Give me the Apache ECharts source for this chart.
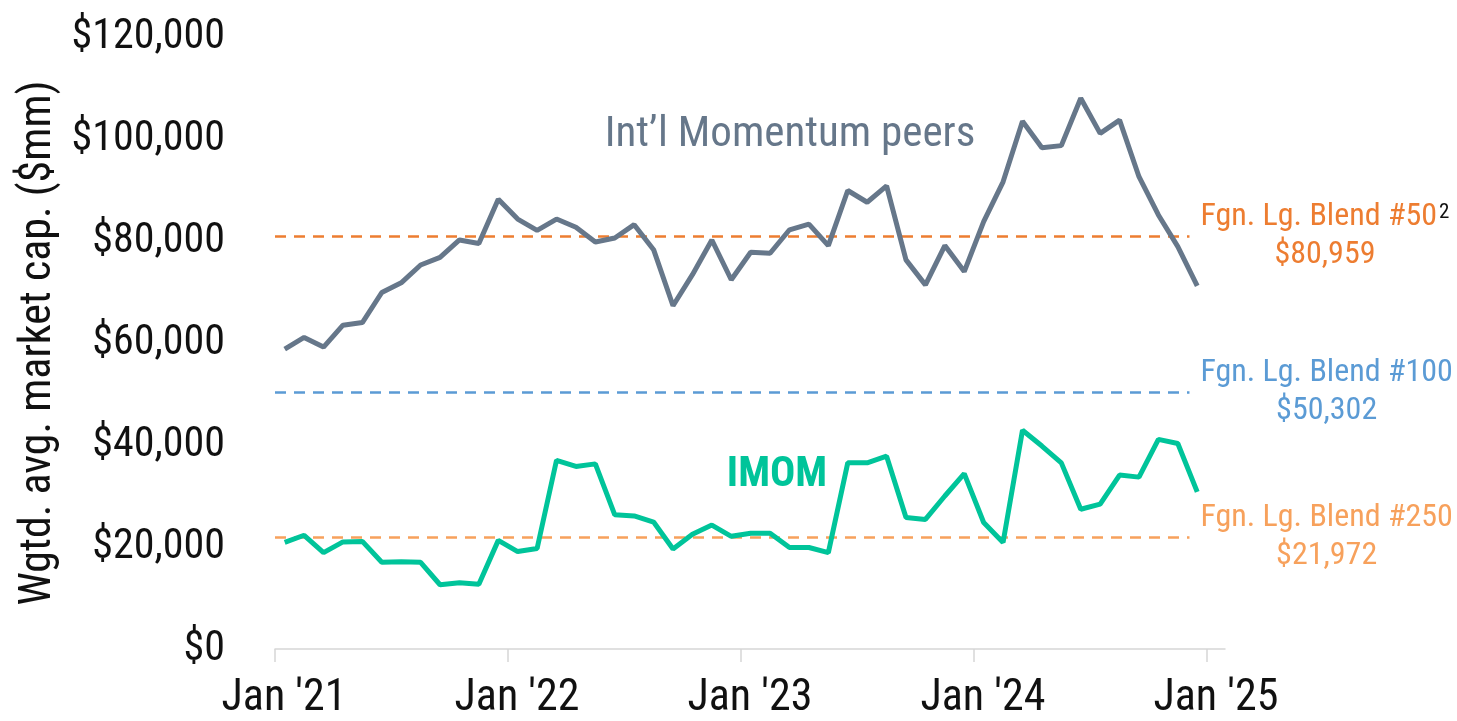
<!DOCTYPE html>
<html>
<head>
<meta charset="utf-8">
<title>Weighted average market cap</title>
<script src="https://cdn.jsdelivr.net/npm/echarts@6/dist/echarts.min.js"></script>
<style>
  html, body { margin: 0; padding: 0; background: #fff; }
  #chart { width: 1457px; height: 721px; }
</style>
</head>
<body>
<div id="chart"></div>
<script>
// monthly points (drawn mid-month), Jan 2021 .. Dec 2024
var months = [
  '2021-01','2021-02','2021-03','2021-04','2021-05','2021-06','2021-07','2021-08','2021-09','2021-10','2021-11','2021-12',
  '2022-01','2022-02','2022-03','2022-04','2022-05','2022-06','2022-07','2022-08','2022-09','2022-10','2022-11','2022-12',
  '2023-01','2023-02','2023-03','2023-04','2023-05','2023-06','2023-07','2023-08','2023-09','2023-10','2023-11','2023-12',
  '2024-01','2024-02','2024-03','2024-04','2024-05','2024-06','2024-07','2024-08','2024-09','2024-10','2024-11','2024-12'
];

// Int'l Momentum peers, $mm
var peers = [
  58800, 61100, 59200, 63500, 64000, 69900, 71800, 75300, 76800, 80200, 79500, 88200,
  84300, 82100, 84300, 82700, 79800, 80600, 83200, 78300, 67300, 73400, 80200, 72400,
  77800, 77600, 82200, 83300, 79100, 89900, 87600, 90800, 76300, 71400, 79100, 74000,
  83800, 91600, 103500, 98300, 98700, 108000, 101100, 103700, 92600, 85100, 78900, 71200
];

// IMOM, $mm
var imom = [
  20900, 22300, 18900, 21000, 21100, 17000, 17100, 17000, 12600, 13000, 12700, 21300,
  19100, 19700, 37000, 35800, 36300, 26300, 26100, 24900, 19600, 22500, 24300, 22100,
  22700, 22700, 19900, 19900, 18900, 36500, 36500, 37800, 25800, 25400, 30000, 34400,
  24800, 20900, 42900, 39800, 36500, 27400, 28400, 34100, 33700, 41100, 40300, 30800
];

var xTickValues = [0, 12, 24, 36, 48];
var xTickLabels = ["Jan '21", "Jan '22", "Jan '23", "Jan '24", "Jan '25"];

var blendNames = ['Fgn. Lg. Blend #50', 'Fgn. Lg. Blend #100', 'Fgn. Lg. Blend #250'];
var blendValues = [80959, 50302, 21972];
var blendColors = ['#ED7D31', '#5B9BD5', '#F7A15C'];

var FONT = "'Roboto Condensed', 'Liberation Sans Narrow', 'Arial Narrow', sans-serif";
var NARROW = "'Liberation Sans Narrow', 'Arial Narrow', 'Roboto Condensed', sans-serif";

function money(v) {
  return '$' + Math.round(v).toLocaleString('en-US');
}

var chart = echarts.init(document.getElementById('chart'));

var blendLines = blendValues.map(function (v, i) {
  var head = '{n|' + blendNames[i] + '}' + (i === 0 ? '{s|2}' : '');
  return [
    {
      coord: [0, v],
      lineStyle: { color: blendColors[i], type: [11, 8], width: 2.5 },
      label: {
        show: true,
        position: 'end',
        distance: 11,
        formatter: head + '\n{v|' + money(v) + '}',
        rich: {
          n: { fontFamily: FONT, fontSize: 32, color: blendColors[i], lineHeight: 38 },
          s: { fontFamily: FONT, fontSize: 21, color: '#111', verticalAlign: 'top', padding: [4, 0, 0, 2] },
          v: { fontFamily: FONT, fontSize: 32, color: blendColors[i], lineHeight: 38, align: 'center' }
        }
      }
    },
    { coord: [47.1, v] }
  ];
});

var option = {
  animation: false,
  textStyle: { fontFamily: FONT },
  title: [
    {
      text: 'Int\u2019l Momentum peers',
      left: 785, top: 109, textAlign: 'center',
      textStyle: { fontFamily: FONT, fontSize: 43, fontWeight: 'normal', color: '#66778A' }
    },
    {
      text: 'IMOM',
      left: 772, top: 449, textAlign: 'center',
      textStyle: { fontFamily: FONT, fontSize: 42, fontWeight: 'bold', color: '#00C49A' }
    }
  ],
  grid: { left: 275, right: 232, top: 37, bottom: 71, containLabel: false },
  xAxis: {
    type: 'value',
    min: 0,
    max: 48.93,
    axisLine: { show: true, lineStyle: { color: '#d6d6d6', width: 1.5 } },
    axisTick: { show: true, customValues: xTickValues, length: 13, lineStyle: { color: '#d6d6d6', width: 1.5 } },
    axisLabel: {
      customValues: xTickValues,
      formatter: function (v) { return xTickLabels[xTickValues.indexOf(v)] || ''; },
      fontFamily: NARROW, fontSize: 44, color: '#111', margin: 28,
      padding: [0, 0, 0, 18]
    },
    splitLine: { show: false }
  },
  yAxis: {
    type: 'value',
    min: 0,
    max: 120000,
    interval: 20000,
    name: 'Wgtd. avg. market cap. ($mm)',
    nameLocation: 'middle',
    nameGap: 202,
    nameTextStyle: { fontFamily: FONT, fontSize: 44, color: '#111' },
    axisLine: { show: false },
    axisTick: { show: false },
    splitLine: { show: false },
    axisLabel: { fontFamily: FONT, fontSize: 42, color: '#111', margin: 50, formatter: money }
  },
  series: [
    {
      name: 'Int\u2019l Momentum peers',
      type: 'line',
      symbol: 'none',
      data: peers.map(function (v, i) { return [i + 0.5, v]; }),
      lineStyle: { color: '#66778A', width: 5 },
      z: 3,
      markLine: {
        silent: true,
        symbol: ['none', 'none'],
        animation: false,
        z: 2,
        data: blendLines
      }
    },
    {
      name: 'IMOM',
      type: 'line',
      symbol: 'none',
      data: imom.map(function (v, i) { return [i + 0.5, v]; }),
      lineStyle: { color: '#00C49A', width: 5 },
      z: 3
    }
  ]
};

chart.setOption(option);
</script>
</body>
</html>
